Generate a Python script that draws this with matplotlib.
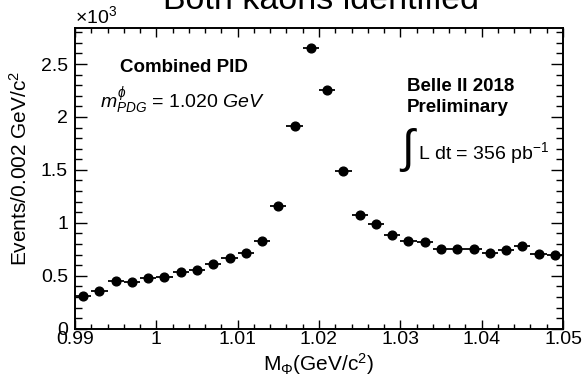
import matplotlib
matplotlib.use("Agg")
import matplotlib.pyplot as plt
from matplotlib.ticker import MultipleLocator, FuncFormatter

plt.rcParams['font.family'] = ['Liberation Sans', 'DejaVu Sans']
plt.rcParams['mathtext.fontset'] = 'custom'
plt.rcParams['mathtext.rm'] = 'Liberation Sans'
plt.rcParams['mathtext.it'] = 'Liberation Sans:italic'
plt.rcParams['mathtext.bf'] = 'Liberation Sans:bold'

# bin centres (GeV/c^2) and counts (x10^3)
mass = [0.991, 0.993, 0.995, 0.997, 0.999, 1.001, 1.003, 1.005, 1.007, 1.009,
        1.011, 1.013, 1.015, 1.017, 1.019, 1.021, 1.023, 1.025, 1.027, 1.029,
        1.031, 1.033, 1.035, 1.037, 1.039, 1.041, 1.043, 1.045, 1.047, 1.049]
events = [0.308, 0.356, 0.453, 0.440, 0.481, 0.488, 0.535, 0.554, 0.613, 0.664,
          0.714, 0.830, 1.160, 1.915, 2.651, 2.252, 1.488, 1.076, 0.988, 0.881,
          0.824, 0.815, 0.752, 0.749, 0.755, 0.714, 0.740, 0.777, 0.702, 0.692]
half_bin = 0.001

fig = plt.figure(figsize=(5.83, 3.87), dpi=100)
ax = fig.add_axes([0.1286, 0.1506, 0.8371, 0.777])

ax.errorbar(mass, events, xerr=half_bin, fmt='o', color='black',
            markersize=6.3, elinewidth=1.3, capsize=0)

ax.set_xlim(0.99, 1.05)
ax.set_ylim(0, 2.84)

ax.xaxis.set_major_locator(MultipleLocator(0.01))
ax.xaxis.set_minor_locator(MultipleLocator(0.002))
ax.yaxis.set_major_locator(MultipleLocator(0.5))
ax.yaxis.set_minor_locator(MultipleLocator(0.1))
ax.xaxis.set_major_formatter(FuncFormatter(lambda v, p: '%g' % round(v, 3)))
ax.yaxis.set_major_formatter(FuncFormatter(lambda v, p: '%g' % round(v, 2)))

ax.tick_params(which='both', direction='in', top=True, right=True, labelsize=14, width=1)
ax.tick_params(axis='x', which='major', length=6.5, pad=2)
ax.tick_params(axis='x', which='minor', length=3.3)
ax.tick_params(axis='y', which='major', length=8.6, pad=5)
ax.tick_params(axis='y', which='minor', length=4.8)
for s in ax.spines.values():
    s.set_linewidth(1.4)

ax.set_xlabel(r'M$_{\Phi}$(GeV/c$^{2}$)', fontsize=15, labelpad=2)
fig.text(20 / 583, 1 - 168 / 387, r'Events/0.002 GeV/c$^{2}$', rotation=90,
         ha='center', va='center', fontsize=15)

fig.text(75 / 583, 1 - 27 / 387, r'$\times$10$^{3}$', fontsize=14, ha='left', va='bottom')
fig.text(321 / 583, 1 - 9 / 387, 'Both kaons identified', fontsize=24.5,
         ha='center', va='baseline')

ax.text(120 / 583, 1 - 68 / 387, 'Combined PID', transform=fig.transFigure,
        fontsize=13.5, fontweight='bold', ha='left', va='center')
ax.text(100 / 583, 1 - 101 / 387, r'$m^{\phi}_{PDG}$ = 1.020 $GeV$',
        transform=fig.transFigure, fontsize=14, ha='left', va='center')
ax.text(407 / 583, 1 - 97 / 387, 'Belle II 2018\nPreliminary',
        transform=fig.transFigure, fontsize=13.5, fontweight='bold',
        ha='left', va='center', linespacing=1.3)
ax.text(399 / 583, 1 - 150 / 387, r'$\int$', transform=fig.transFigure,
        fontsize=33, ha='left', va='center')
ax.text(418 / 583, 1 - 153 / 387, r'L dt = 356 pb$^{\mathregular{-1}}$',
        transform=fig.transFigure, fontsize=14, ha='left', va='center')

fig.savefig('out.png', dpi=100)
